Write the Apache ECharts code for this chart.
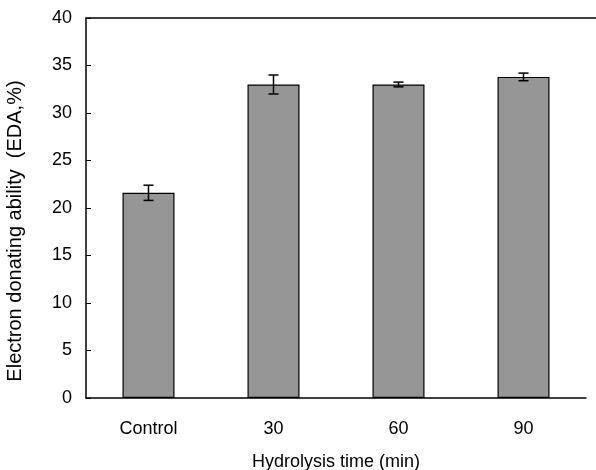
<!DOCTYPE html>
<html>
<head>
<meta charset="utf-8">
<script src="https://cdn.jsdelivr.net/npm/echarts@6/dist/echarts.min.js"></script>
<style>
  html, body { margin: 0; padding: 0; background: #fff; }
  #main { width: 596px; height: 470px; }
</style>
</head>
<body>
<div id="main"></div>
<script>
  // hydrolysis time groups
  var categories = ['Control', '30', '60', '90'];
  // electron donating ability (EDA, %)
  var eda = [21.6, 33.0, 33.0, 33.8];
  // error (+/-)
  var edaErr = [0.8, 1.0, 0.25, 0.4];
  var yTicks = [0, 5, 10, 15, 20, 25, 30, 35, 40];

  var font = 'Liberation Sans, Arial, sans-serif';
  var chart = echarts.init(document.getElementById('main'));

  var errData = categories.map(function (c, i) {
    return [i, eda[i] - edaErr[i], eda[i] + edaErr[i]];
  });

  var option = {
    backgroundColor: '#ffffff',
    animation: false,
    grid: [
      { left: 86, top: 18, width: 500, bottom: 72, containLabel: false, outerBoundsMode: 'none' },
      { left: 86, top: 18, right: 0, bottom: 72, containLabel: false, outerBoundsMode: 'none' }
    ],
    xAxis: [{
      type: 'category',
      gridIndex: 0,
      data: categories,
      boundaryGap: true,
      axisLine: { lineStyle: { color: '#000', width: 1.5 } },
      axisTick: { inside: true, length: 5, lineStyle: { color: '#000' } },
      axisLabel: { color: '#000', fontSize: 18, fontFamily: font, margin: 22 },
      name: 'Hydrolysis time (min)',
      nameLocation: 'middle',
      nameGap: 55,
      nameTextStyle: { color: '#000', fontSize: 18, fontFamily: font }
    }, {
      // top frame line
      type: 'value',
      gridIndex: 1,
      position: 'top',
      axisLine: { show: true, onZero: false, lineStyle: { color: '#000', width: 1.5 } },
      axisTick: { show: false },
      axisLabel: { show: false },
      splitLine: { show: false }
    }],
    yAxis: [{
      type: 'value',
      gridIndex: 0,
      min: yTicks[0],
      max: yTicks[yTicks.length - 1],
      interval: 5,
      axisLine: { show: true, lineStyle: { color: '#000', width: 1.5 } },
      axisTick: { show: true, inside: true, length: 5, lineStyle: { color: '#000' } },
      axisLabel: { color: '#000', fontSize: 18, fontFamily: font, margin: 14 },
      splitLine: { show: false },
      name: 'Electron donating ability  (EDA,%)',
      nameLocation: 'middle',
      nameGap: 61,
      nameTextStyle: { color: '#000', fontSize: 20, fontFamily: font, padding: [0, 46, 0, 0] }
    }, {
      type: 'value',
      gridIndex: 1,
      show: false
    }],
    series: [{
      type: 'bar',
      xAxisIndex: 0,
      yAxisIndex: 0,
      data: eda,
      barWidth: 52,
      itemStyle: { color: '#969696', borderColor: '#000', borderWidth: 1.2 }
    }, {
      type: 'custom',
      xAxisIndex: 0,
      yAxisIndex: 0,
      data: errData,
      z: 10,
      renderItem: function (params, api) {
        var lo = api.coord([api.value(0), api.value(1)]);
        var hi = api.coord([api.value(0), api.value(2)]);
        var cap = 5;
        var style = { stroke: '#000', lineWidth: 1.5 };
        return {
          type: 'group',
          children: [
            { type: 'line', shape: { x1: hi[0], y1: hi[1], x2: lo[0], y2: lo[1] }, style: style },
            { type: 'line', shape: { x1: hi[0] - cap, y1: hi[1], x2: hi[0] + cap, y2: hi[1] }, style: style },
            { type: 'line', shape: { x1: lo[0] - cap, y1: lo[1], x2: lo[0] + cap, y2: lo[1] }, style: style }
          ]
        };
      }
    }]
  };

  chart.setOption(option);
</script>
</body>
</html>
